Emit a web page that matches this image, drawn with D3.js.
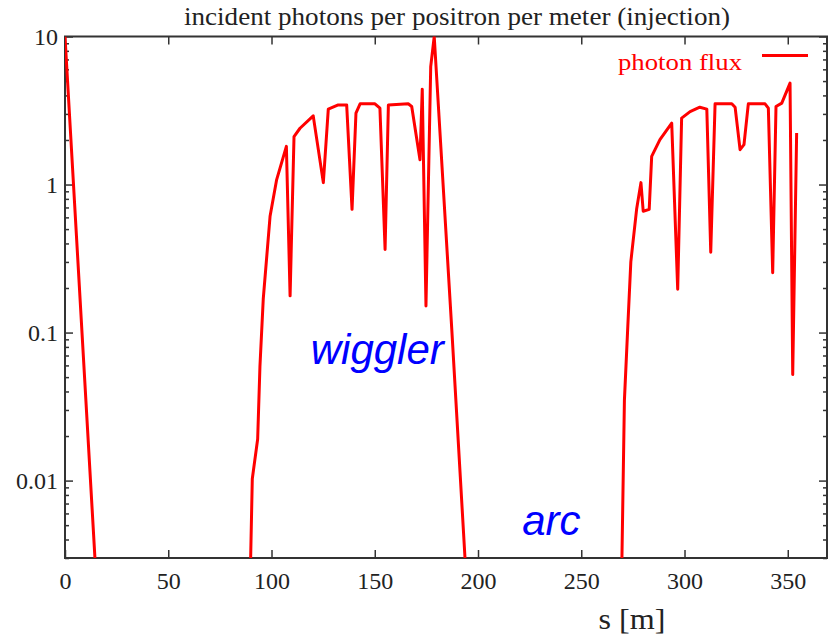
<!DOCTYPE html>
<html>
<head>
<meta charset="utf-8">
<script src="https://cdn.jsdelivr.net/npm/d3@7"></script>
<style>
  body { margin: 0; background: #fff; }
  svg { display: block; }
</style>
</head>
<body>
<svg id="chart"></svg>
<script>
const titleText = "incident photons per positron per meter (injection)";
const xLabel = "s [m]";
const seriesName = "photon flux";
const xTicks = [0, 50, 100, 150, 200, 250, 300, 350];
const yTicks = [0.01, 0.1, 1, 10];
const yTickLabels = ["0.01", "0.1", "1", "10"];

// s [m] and flux, null marks a gap between the three visible pieces
const sValues = [
  0, 14.5, 16,
  null,
  89.6, 89.9, 90.7, 93.3, 94.4, 96.0, 99.3, 102.5, 107.2, 109.0, 110.9, 113.8,
  120.2, 125.1, 127.5, 132.3, 136.4, 139.0, 140.9, 142.9, 150.1, 152.5, 155.0,
  156.6, 166.2, 167.9, 171.9, 173.0, 174.8, 177.1, 178.8, 187.3, 193.7, 195.5,
  null,
  269.3, 269.7, 270.9, 272.4, 274.0, 276.8, 278.9, 280.0, 282.9, 284.1, 288.1,
  293.8, 296.7, 298.6, 302.7, 307.4, 310.8, 312.7, 314.8, 322.9, 324.5, 326.9,
  328.8, 330.9, 339.0, 340.6, 342.7, 344.3, 347.1, 351.1, 352.4, 354.3
];
const fluxValues = [
  10, 0.003, 0.0013,
  null,
  0.0016, 0.003, 0.0103, 0.0191, 0.059, 0.168, 0.61, 1.08, 1.81, 0.177, 2.11, 2.40,
  2.91, 1.03, 3.23, 3.45, 3.45, 0.68, 3.04, 3.51, 3.51, 3.28, 0.364,
  3.45, 3.51, 3.37, 1.47, 4.41, 0.151, 6.26, 10, 0.105, 0.003, 0.0011,
  null,
  0.0016, 0.003, 0.035, 0.1, 0.3, 0.68, 1.03, 0.66, 0.68, 1.55, 2.01,
  2.60, 0.196, 2.81, 3.11, 3.33, 3.23, 0.349, 3.51, 3.51, 3.33, 1.72,
  1.86, 3.51, 3.51, 3.28, 0.254, 3.37, 3.55, 4.84, 0.052, 2.23
];

const width = 835, height = 637;
const margin = { top: 36.5, right: 8, bottom: 79, left: 65 };
const innerWidth = width - margin.left - margin.right;
const innerHeight = height - margin.top - margin.bottom;

const svg = d3.select('#chart')
  .attr('width', width)
  .attr('height', height);

const x = d3.scaleLinear().domain([0, 369]).range([0, innerWidth]);
const y = d3.scaleLog().domain([0.003, 10]).range([innerHeight, 0]);

const g = svg.append('g')
  .attr('transform', `translate(${margin.left},${margin.top})`);

const axisColor = '#333';
const serif = '"Liberation Serif", "Times New Roman", serif';

// minor log ticks 2..9 per decade
const minorTicks = [];
[0.001, 0.01, 0.1, 1].forEach(base => {
  for (let k = 2; k <= 9; k++) {
    const v = base * k;
    if (v >= 0.003 && v < 10) minorTicks.push(v);
  }
});

// left/right axes
const yLeft = g.append('g')
  .call(d3.axisLeft(y).tickValues(yTicks).tickSize(-8).tickFormat((d, i) => yTickLabels[i]).tickPadding(7));
const yLeftMinor = g.append('g')
  .call(d3.axisLeft(y).tickValues(minorTicks).tickSize(-4).tickFormat(''));
const yRight = g.append('g')
  .attr('transform', `translate(${innerWidth},0)`)
  .call(d3.axisRight(y).tickValues(yTicks).tickSize(-8).tickFormat(''));
const yRightMinor = g.append('g')
  .attr('transform', `translate(${innerWidth},0)`)
  .call(d3.axisRight(y).tickValues(minorTicks).tickSize(-4).tickFormat(''));

// bottom/top axes
const xBottom = g.append('g')
  .attr('transform', `translate(0,${innerHeight})`)
  .call(d3.axisBottom(x).tickValues(xTicks).tickSize(-8).tickPadding(14));
const xTop = g.append('g')
  .call(d3.axisTop(x).tickValues(xTicks).tickSize(-8).tickFormat(''));

[yLeftMinor, yRight, yRightMinor, xTop].forEach(a => a.selectAll('text').remove());

[yLeft, yLeftMinor, yRight, yRightMinor, xBottom, xTop].forEach(a => {
  a.select('.domain').remove();
  a.selectAll('line').attr('stroke', axisColor).attr('stroke-width', 1.5);
  a.selectAll('text')
    .attr('fill', '#222')
    .style('font-family', serif)
    .style('font-size', '24px');
});

// frame
g.append('rect')
  .attr('width', innerWidth)
  .attr('height', innerHeight)
  .attr('fill', 'none')
  .attr('stroke', axisColor)
  .attr('stroke-width', 2);

// data line
g.append('clipPath').attr('id', 'plot-clip')
  .append('rect').attr('width', innerWidth).attr('height', innerHeight);

const points = sValues.map((s, i) => ({ s: s, v: fluxValues[i] }));
const line = d3.line()
  .defined(d => d.s != null && d.v != null)
  .x(d => x(d.s))
  .y(d => y(d.v));

g.append('path')
  .datum(points)
  .attr('clip-path', 'url(#plot-clip)')
  .attr('fill', 'none')
  .attr('stroke', '#ff0000')
  .attr('stroke-width', 3)
  .attr('stroke-linejoin', 'round')
  .attr('d', line);

// legend
g.append('text')
  .attr('x', 677)
  .attr('y', 33)
  .attr('text-anchor', 'end')
  .attr('fill', '#ff0000')
  .attr('textLength', 124)
  .attr('lengthAdjust', 'spacingAndGlyphs')
  .style('font-family', serif)
  .style('font-size', '24px')
  .text(seriesName);
g.append('line')
  .attr('x1', 697).attr('x2', 743)
  .attr('y1', 19).attr('y2', 19)
  .attr('stroke', '#ff0000')
  .attr('stroke-width', 3);

// annotations
g.append('text')
  .attr('x', x(119))
  .attr('y', y(0.061))
  .attr('fill', '#0000ff')
  .style('font-family', '"Liberation Sans", Arial, sans-serif')
  .style('font-style', 'italic')
  .style('font-size', '42px')
  .text('wiggler');
g.append('text')
  .attr('x', x(221.4))
  .attr('y', y(0.00426))
  .attr('fill', '#0000ff')
  .style('font-family', '"Liberation Sans", Arial, sans-serif')
  .style('font-style', 'italic')
  .style('font-size', '42px')
  .text('arc');

// title and x label
svg.append('text')
  .attr('x', 457)
  .attr('y', 25)
  .attr('text-anchor', 'middle')
  .attr('fill', '#222')
  .attr('textLength', 546)
  .attr('lengthAdjust', 'spacingAndGlyphs')
  .style('font-family', serif)
  .style('font-size', '25px')
  .text(titleText);
svg.append('text')
  .attr('x', 632)
  .attr('y', 629)
  .attr('text-anchor', 'middle')
  .attr('fill', '#222')
  .attr('textLength', 67)
  .attr('lengthAdjust', 'spacingAndGlyphs')
  .style('font-family', serif)
  .style('font-size', '29px')
  .text(xLabel);
</script>
</body>
</html>
